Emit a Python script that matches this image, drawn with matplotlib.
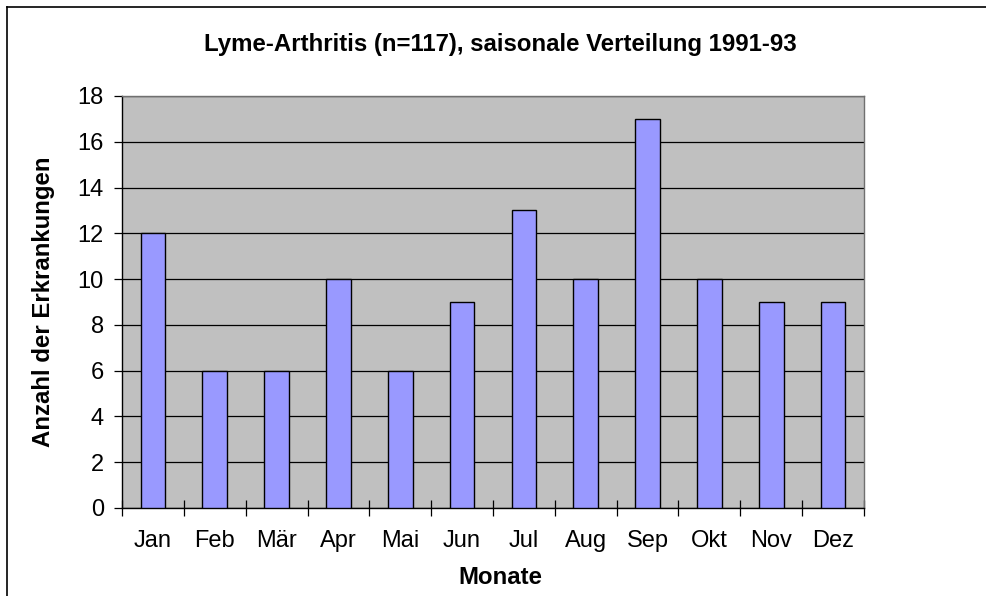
import numpy as np
import matplotlib.pyplot as plt
from matplotlib.lines import Line2D

# Daten: Lyme-Arthritis, Fälle pro Monat 1991-93
monate = ["Jan", "Feb", "Mär", "Apr", "Mai", "Jun",
          "Jul", "Aug", "Sep", "Okt", "Nov", "Dez"]
anzahl = [12, 6, 6, 10, 6, 9, 13, 10, 17, 10, 9, 9]
y_ticks = [0, 2, 4, 6, 8, 10, 12, 14, 16, 18]

plt.rcParams["font.family"] = ["Liberation Sans", "DejaVu Sans"]

W, H = 986, 596
fig = plt.figure(figsize=(W / 100, H / 100), dpi=100)
ax = fig.add_axes([122 / W, 1 - 508 / H, (864 - 122) / W, (508 - 96) / H])

x = np.arange(len(monate))
ax.set_facecolor("#C0C0C0")
ax.bar(x, anzahl, width=0.40, color="#9999FF", edgecolor="black",
       linewidth=1.0, zorder=3)

ax.set_xlim(-0.5, len(monate) - 0.5)
ax.set_ylim(0, 18)
ax.set_yticks(y_ticks)
ax.yaxis.grid(True, color="black", linewidth=0.9, zorder=1)
ax.set_axisbelow(True)

ax.set_xticks(x)
ax.set_xticklabels(monate)
ax.set_xticks(np.arange(-0.5, len(monate)), minor=True)
ax.tick_params(axis="x", which="major", length=0, pad=16, labelsize=17)
ax.tick_params(axis="x", which="minor", length=11, direction="inout",
               width=0.9, color="black")
ax.tick_params(axis="y", length=6, width=0.9, pad=7, labelsize=17)

for s in ("left", "bottom"):
    ax.spines[s].set_color("black")
    ax.spines[s].set_linewidth(1.0)
for s in ("top", "right"):
    ax.spines[s].set_color("#707070")
    ax.spines[s].set_linewidth(1.0)

fig.text(500 / W, 1 - 45 / H, "Lyme-Arthritis (n=117), saisonale Verteilung 1991-93",
         ha="center", va="center", fontsize=17.3, fontweight="bold")
fig.text(44 / W, 1 - 302 / H, "Anzahl der Erkrankungen", rotation=90,
         ha="center", va="center", fontsize=17.3, fontweight="bold")
fig.text(500 / W, 1 - 577 / H, "Monate", ha="center", va="center",
         fontsize=17.3, fontweight="bold")

# äußerer Rahmen (nur links und oben sichtbar)
fig.add_artist(Line2D([6.5 / W, 6.5 / W], [0, 1 - 6.5 / H],
                      transform=fig.transFigure, color="black", linewidth=1.2))
fig.add_artist(Line2D([6.5 / W, 1], [1 - 6.5 / H, 1 - 6.5 / H],
                      transform=fig.transFigure, color="black", linewidth=1.2))

fig.savefig("out.png", dpi=100)
